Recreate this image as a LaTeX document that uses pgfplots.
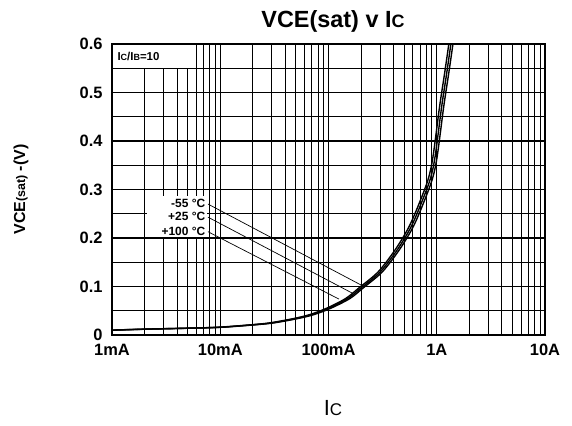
\documentclass[border=0pt]{standalone}
\usepackage{fontspec}
\setmainfont{Liberation Sans}
\usepackage{pgfplots}
\pgfplotsset{compat=1.18}
\begin{document}
\begin{tikzpicture}
\begin{axis}[
  scale only axis, width=433bp, height=291bp,
  at={(0,0)}, anchor=south west,
  xmode=log, xmin=1e-3, xmax=10, ymin=0, ymax=0.6,
  xtick={1e-3,1e-2,1e-1,1,10}, xticklabels={1mA,10mA,100mA,1A,10A},
  ytick={0,0.1,0.2,0.3,0.4,0.5,0.6}, yticklabels={0,0.1,0.2,0.3,0.4,0.5,0.6},
  minor ytick={0.05,0.15,0.25,0.35,0.45,0.55},
  grid=both,
  major grid style={black, line width=1.1bp},
  minor grid style={black, line width=0.9bp},
  axis line style={black, line width=1.8bp},
  tick style={draw=none},
  ticklabel style={font=\bfseries\fontsize{16.5}{18}\selectfont},
  xticklabel style={yshift=-6bp},
  yticklabel style={xshift=-6bp},
  clip=true,
]
% label boxes
\filldraw[fill=white, draw=black, line width=1.1bp] (axis cs:1e-3,0.55) rectangle (axis cs:0.006,0.6);
\node[anchor=west, font=\bfseries\fontsize{11.5}{13}\selectfont, inner sep=0pt] at (axis cs:0.00112,0.575) {I{\fontsize{9}{10}\selectfont C}/I{\fontsize{9}{10}\selectfont B}=10};
\fill[white] (axis cs:0.0021,0.2025) rectangle (axis cs:0.0075,0.287);
\node[anchor=east, font=\bfseries\fontsize{12}{13}\selectfont, inner sep=0pt] at (axis cs:0.0073,0.272) {-55 °C};
\node[anchor=east, font=\bfseries\fontsize{12}{13}\selectfont, inner sep=0pt] at (axis cs:0.0073,0.244) {+25 °C};
\node[anchor=east, font=\bfseries\fontsize{12}{13}\selectfont, inner sep=0pt] at (axis cs:0.0073,0.214) {+100 °C};
% leader lines
\addplot[black, line width=0.7bp] coordinates {(0.0077,0.270)(0.208,0.101)};
\addplot[black, line width=0.7bp] coordinates {(0.0077,0.243)(0.165,0.0866)};
\addplot[black, line width=0.7bp] coordinates {(0.0077,0.213)(0.125,0.074)};
% -55 C
\addplot[black, line width=1.4bp, smooth] coordinates {
(0.00105,0.010)(0.0021,0.012)(0.00522,0.014)(0.01045,0.016)(0.0209,0.021)(0.0314,0.025)
(0.0523,0.034)(0.0732,0.042)(0.1045,0.055)(0.157,0.075)(0.209,0.097)(0.3135,0.130)
(0.449,0.175)(0.596,0.220)(0.732,0.265)(0.906,0.320)(1.007,0.367)(1.160,0.471)
(1.285,0.537)(1.411,0.600)(1.463,0.630)};
% +25 C
\addplot[black, line width=1.4bp, smooth] coordinates {
(0.001,0.010)(0.002,0.012)(0.005,0.014)(0.01,0.016)(0.02,0.021)(0.03,0.025)
(0.05,0.034)(0.07,0.042)(0.1,0.055)(0.15,0.075)(0.2,0.097)(0.3,0.130)
(0.43,0.175)(0.57,0.220)(0.7,0.265)(0.867,0.320)(0.964,0.367)(1.11,0.471)
(1.23,0.537)(1.35,0.600)(1.4,0.630)};
% +100 C
\addplot[black, line width=1.4bp, smooth] coordinates {
(0.000957,0.010)(0.00191,0.012)(0.00478,0.014)(0.00957,0.016)(0.0191,0.021)(0.0287,0.025)
(0.0478,0.034)(0.067,0.042)(0.0957,0.055)(0.1435,0.075)(0.191,0.097)(0.287,0.130)
(0.411,0.175)(0.545,0.220)(0.670,0.265)(0.830,0.320)(0.922,0.367)(1.062,0.471)
(1.177,0.537)(1.292,0.600)(1.340,0.630)};
\end{axis}
\node[font=\bfseries\fontsize{23.5}{26}\selectfont] at (221bp,314bp) {VCE(sat) v I{\fontsize{18}{20}\selectfont C}};
\node[rotate=90, font=\bfseries\fontsize{16}{18}\selectfont] at (-91bp,145.5bp) {VCE{\fontsize{12.5}{14}\selectfont (sat)} -(V)};
\node[font=\fontsize{22}{25}\selectfont] at (221bp,-73bp) {I{\fontsize{17}{19}\selectfont C}};
\path (-112bp,-91bp) rectangle (460bp,335bp);
\end{tikzpicture}
\end{document}
